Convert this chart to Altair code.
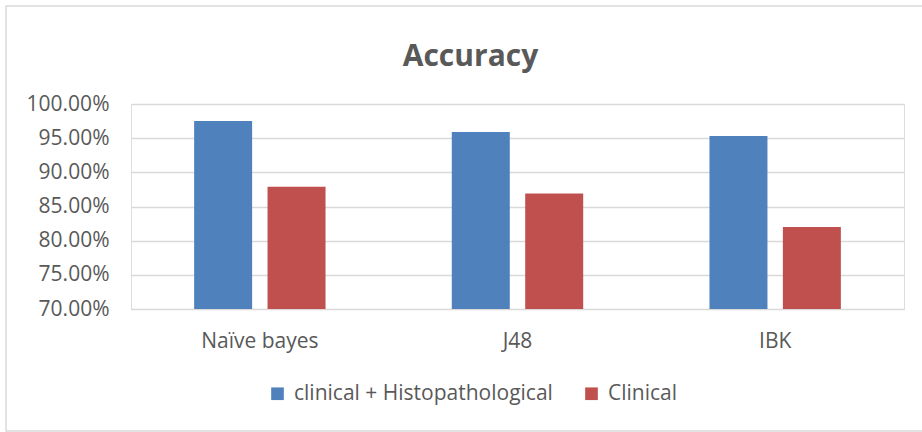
import altair as alt
import pandas as pd

models = ["Naïve bayes", "J48", "IBK"]
series = ["clinical + Histopathological", "Clinical"]
combined = [0.975, 0.959, 0.953]
clinical = [0.879, 0.869, 0.820]
colors = ["#4F81BD", "#C0504D"]

rows = []
for i, m in enumerate(models):
    rows.append({"model": m, "series": series[0], "value": combined[i]})
    rows.append({"model": m, "series": series[1], "value": clinical[i]})
df = pd.DataFrame(rows)

FONT = "Open Sans"
GRAY = "#595959"
FS = 21

bars = alt.Chart(df).mark_bar().encode(
    x=alt.X("model:N", sort=models, title=None,
            scale=alt.Scale(paddingInner=0, paddingOuter=0),
            axis=alt.Axis(labelAngle=0, labelFont=FONT, labelFontSize=FS,
                          labelColor=GRAY, labelPadding=21, ticks=False,
                          domain=False, grid=False)),
    xOffset=alt.XOffset("series:N", sort=series,
                        scale=alt.Scale(paddingInner=0.21, paddingOuter=0.86)),
    y=alt.Y("value:Q", title=None,
            scale=alt.Scale(domain=[0.70, 1.00], zero=False, nice=False),
            axis=alt.Axis(format=".2%", values=[0.70, 0.75, 0.80, 0.85, 0.90, 0.95, 1.00],
                          labelFont=FONT, labelFontSize=FS, labelColor=GRAY,
                          labelPadding=22, ticks=False, domain=False,
                          gridColor="#D9D9D9", gridWidth=1.4)),
    y2=alt.datum(0.70),
    color=alt.Color("series:N", sort=series,
                    scale=alt.Scale(domain=series, range=colors),
                    legend=alt.Legend(title=None, orient="none", direction="horizontal",
                                      legendX=136, legendY=279,
                                      symbolType="square", symbolSize=160,
                                      symbolStrokeWidth=0, labelLimit=400,
                                      labelFont=FONT, labelFontSize=FS,
                                      labelColor=GRAY, labelOffset=6,
                                      columnPadding=28)),
)

border = alt.Chart(pd.DataFrame({"a": [0]})).mark_rect(
    fill=None, stroke="#D9D9D9", strokeWidth=1.5
).encode(x=alt.value(-125), x2=alt.value(795), y=alt.value(-98), y2=alt.value(327))

chart = alt.layer(border, bars).properties(
    width=773, height=205,
    padding={"left": 131, "top": 104, "right": 18, "bottom": 123},
    autosize=alt.AutoSizeParams(type="none"),
    title=alt.TitleParams("Accuracy", font=FONT, fontSize=30, fontWeight="bold",
                          color=GRAY, anchor="middle", frame="group", dx=-47,
                          offset=-67),
).configure_view(stroke=None).configure(background="white")

chart.save("out.html", embed_options={"renderer": "svg", "actions": False})
